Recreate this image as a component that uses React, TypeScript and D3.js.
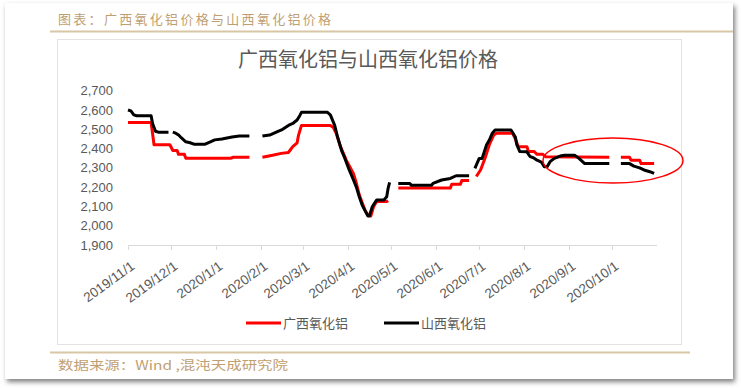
import React from 'react';
import * as d3 from 'd3';

const width = 741;
const height = 388;

// 广西氧化铝 (red)
const gxDates = ['2019-11-01','2019-11-17','2019-11-19','2019-11-30','2019-12-02','2019-12-05','2019-12-06','2019-12-10','2019-12-11','2020-01-11','2020-01-13','2020-01-24','2020-01-28','2020-02-02','2020-02-09','2020-02-15','2020-02-20','2020-02-21','2020-02-23','2020-02-26','2020-02-27','2020-02-29','2020-03-20','2020-03-22','2020-03-24','2020-03-27','2020-03-29','2020-03-31','2020-04-05','2020-04-07','2020-04-09','2020-04-13','2020-04-15','2020-04-17','2020-04-19','2020-04-21','2020-04-28','2020-04-29','2020-05-03','2020-05-06','2020-06-11','2020-06-12','2020-06-18','2020-06-19','2020-06-24','2020-06-26','2020-06-29','2020-07-02','2020-07-05','2020-07-08','2020-07-11','2020-07-13','2020-07-24','2020-07-26','2020-07-28','2020-08-03','2020-08-04','2020-08-08','2020-08-10','2020-08-14','2020-08-16','2020-09-29','2020-10-03','2020-10-07','2020-10-13','2020-10-14','2020-10-20','2020-10-21','2020-10-30'];
const gxPrices = [2535,2535,2420,2420,2390,2390,2370,2370,2350,2350,2355,2355,null,2355,2365,2375,2380,2390,2410,2430,2470,2520,2520,2510,2480,2410,2375,2340,2270,2220,2160,2080,2055,2050,2100,2125,2125,2130,null,2195,2195,2215,2215,2235,2235,null,2255,2290,2350,2420,2470,2480,2480,2450,2410,2410,2385,2385,2370,2370,2357,2355,null,2355,2355,2340,2340,2322,2322];

// 山西氧化铝 (black)
const sxDates = ['2019-11-01','2019-11-03','2019-11-05','2019-11-07','2019-11-17','2019-11-18','2019-11-20','2019-11-22','2019-11-29','2019-11-30','2019-12-02','2019-12-04','2019-12-06','2019-12-08','2019-12-11','2019-12-14','2019-12-17','2019-12-24','2019-12-28','2019-12-31','2020-01-05','2020-01-12','2020-01-17','2020-01-24','2020-01-28','2020-02-02','2020-02-07','2020-02-12','2020-02-16','2020-02-20','2020-02-23','2020-02-26','2020-02-28','2020-02-29','2020-03-18','2020-03-20','2020-03-23','2020-03-25','2020-03-28','2020-03-30','2020-04-02','2020-04-05','2020-04-07','2020-04-09','2020-04-11','2020-04-14','2020-04-15','2020-04-16','2020-04-18','2020-04-21','2020-04-26','2020-04-28','2020-04-29','2020-04-30','2020-05-03','2020-05-06','2020-05-14','2020-05-15','2020-05-29','2020-05-30','2020-06-05','2020-06-11','2020-06-15','2020-06-24','2020-06-26','2020-06-28','2020-07-01','2020-07-03','2020-07-06','2020-07-08','2020-07-10','2020-07-12','2020-07-23','2020-07-26','2020-07-27','2020-07-29','2020-08-03','2020-08-05','2020-08-08','2020-08-10','2020-08-13','2020-08-15','2020-08-17','2020-08-19','2020-08-22','2020-08-26','2020-08-29','2020-09-05','2020-09-08','2020-09-12','2020-09-29','2020-10-03','2020-10-07','2020-10-13','2020-10-16','2020-10-20','2020-10-23','2020-10-27','2020-10-30'];
const sxPrices = [2600,2595,2575,2570,2570,2530,2490,2485,2485,null,2485,2480,2470,2455,2435,2430,2422,2422,2435,2445,2450,2460,2465,2465,null,2465,2470,2487,2500,2520,2530,2548,2573,2588,2588,2575,2520,2460,2385,2350,2290,2237,2200,2150,2107,2064,2050,2050,2098,2133,2133,2150,2195,2225,null,2219,2219,2210,2210,2219,2237,2245,2259,2259,null,2297,2349,2349,2418,2444,2479,2496,2496,2460,2420,2385,2383,2360,2350,2340,2330,2306,2306,2332,2349,2361,2365,2365,2349,2322,2322,null,2322,2322,2309,2300,2289,2280,2271];

const monthTicks = ['2019/11/1','2019/12/1','2020/1/1','2020/2/1','2020/3/1','2020/4/1','2020/5/1','2020/6/1','2020/7/1','2020/8/1','2020/9/1','2020/10/1'];
const yTicks = [1900, 2000, 2100, 2200, 2300, 2400, 2500, 2600, 2700];

const parse = d3.timeParse('%Y-%m-%d');
const parseTick = d3.timeParse('%Y/%m/%d');

type Pt = { date: Date; v: number | null };
const gx: Pt[] = gxDates.map((d, i) => ({ date: parse(d)!, v: gxPrices[i] }));
const sx: Pt[] = sxDates.map((d, i) => ({ date: parse(d)!, v: sxPrices[i] }));

const x = d3.scaleTime()
  .domain([parse('2019-11-01')!, parse('2020-11-01')!])
  .range([128, 657]);
const y = d3.scaleLinear().domain([1900, 2700]).range([245, 90.7]);

const line = d3.line<Pt>()
  .defined(d => d.v != null)
  .x(d => x(d.date))
  .y(d => y(d.v as number));

const tan = '#bf9f72';
const grey = '#595959';
const fmt = d3.format(',');

export default function App() {
  return (
    <svg width={width} height={height} style={{ position: 'fixed', left: 0, top: 0 }}
      fontFamily="'Liberation Sans', Arial, sans-serif">
      <defs>
        <filter id="shadow" x="-5%" y="-5%" width="110%" height="115%">
          <feDropShadow dx="2" dy="3" stdDeviation="2.5" floodColor="#000" floodOpacity="0.5" />
        </filter>
      </defs>
      <rect width={width} height={height} fill="#ffffff" />
      <rect x={5} y={3} width={728} height={376} fill="#ffffff" filter="url(#shadow)" />

      <text x={58} y={24} fontSize={13} fill={tan} letterSpacing={2.3}
        fontFamily="'Noto Sans CJK SC', sans-serif">图表：广西氧化铝价格与山西氧化铝价格</text>
      <line x1={50} x2={733} y1={31.5} y2={31.5} stroke="#d8c6a6" strokeWidth={2} />

      <rect x={57.5} y={39.5} width={624} height={305} fill="none" stroke="#e3e3e3" />

      <text x={368} y={67} textAnchor="middle" fontSize={20} fill={grey}
        fontFamily="'Noto Sans CJK SC', sans-serif">广西氧化铝与山西氧化铝价格</text>

      {yTicks.map(t => (
        <text key={t} x={113} y={y(t)} dy="0.35em" textAnchor="end" fontSize={13} fill={grey}>{fmt(t)}</text>
      ))}

      <line x1={128} x2={657} y1={245.5} y2={245.5} stroke="#d9d9d9" />
      {monthTicks.map(t => {
        const tx = Math.round(x(parseTick(t)!)) + 0.5;
        return (
          <g key={t}>
            <line x1={tx} x2={tx} y1={245} y2={250} stroke="#d9d9d9" />
            <text transform={`translate(${tx + 7},${268}) rotate(-36)`} textAnchor="end"
              fontSize={13.5} fill={grey}>{t}</text>
          </g>
        );
      })}

      <path d={line(gx) || ''} fill="none" stroke="#ff0000" strokeWidth={3} strokeLinejoin="round" />
      <path d={line(sx) || ''} fill="none" stroke="#000000" strokeWidth={3} strokeLinejoin="round" />

      <ellipse cx={613} cy={160.5} rx={70} ry={22.5} fill="none" stroke="#ff0000" strokeWidth={1.5} />

      <line x1={246} x2={281} y1={323} y2={323} stroke="#ff0000" strokeWidth={3} />
      <text x={283} y={323} dy="0.35em" fontSize={13} fill={grey}
        fontFamily="'Noto Sans CJK SC', sans-serif">广西氧化铝</text>
      <line x1={384} x2={419} y1={323} y2={323} stroke="#000000" strokeWidth={3} />
      <text x={421} y={323} dy="0.35em" fontSize={13} fill={grey}
        fontFamily="'Noto Sans CJK SC', sans-serif">山西氧化铝</text>

      <line x1={50} x2={690} y1={352.5} y2={352.5} stroke="#d8c6a6" strokeWidth={2} />
      <text x={58} y={370} fontSize={12.5} fill={tan} textLength={230} lengthAdjust="spacingAndGlyphs"
        fontFamily="'Noto Sans CJK SC', sans-serif">数据来源：Wind ,混沌天成研究院</text>
    </svg>
  );
}
